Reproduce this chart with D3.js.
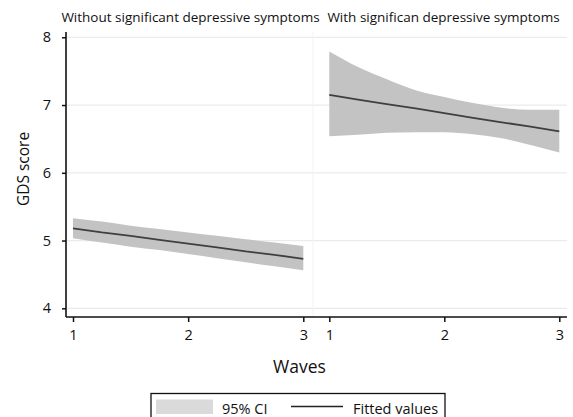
<!DOCTYPE html>
<html><head><meta charset="utf-8">
<script src="https://cdn.jsdelivr.net/npm/d3@7"></script>
<style>body{margin:0;background:#fff}svg{display:block}text{font-family:"Open Sans",sans-serif;fill:#111}</style>
</head><body>
<script>
const panelTitles = ["Without significant depressive symptoms", "With significan depressive symptoms"];
const waves = [1, 1.25, 1.5, 1.75, 2, 2.25, 2.5, 2.75, 3];
const noDepFit   = [5.18, 5.12, 5.07, 5.01, 4.955, 4.90, 4.84, 4.79, 4.73];
const noDepUpper = [5.33, 5.28, 5.22, 5.17, 5.12, 5.07, 5.02, 4.97, 4.92];
const noDepLower = [5.035, 4.97, 4.91, 4.86, 4.80, 4.74, 4.68, 4.62, 4.56];
const depFit   = [7.15, 7.08, 7.015, 6.95, 6.88, 6.81, 6.745, 6.68, 6.61];
const depUpper = [7.79, 7.56, 7.38, 7.22, 7.12, 7.03, 6.96, 6.93, 6.93];
const depLower = [6.54, 6.56, 6.59, 6.60, 6.60, 6.57, 6.51, 6.41, 6.30];
const xTicks = [1, 2, 3];
const yTicks = [4, 5, 6, 7, 8];
const legendLabels = ["95% CI", "Fitted values"];

const W = 573, H = 417;
const FONT = "'Open Sans',sans-serif";
const svg = d3.select("body").append("svg").attr("width", W).attr("height", H);

const plotLeft = 66, plotRight = 567, plotTop = 32, plotBottom = 317, divider = 313;
const y = d3.scaleLinear().domain([4, 8]).range([308.3, 37.3]);

const panels = [
  {title: panelTitles[0], fit: noDepFit, up: noDepUpper, lo: noDepLower, x: d3.scaleLinear().domain([1,3]).range([73, 303.3]), cx: 190.5},
  {title: panelTitles[1], fit: depFit, up: depUpper, lo: depLower, x: d3.scaleLinear().domain([1,3]).range([329.3, 559.3]), cx: 443.5}
];

svg.append("g").selectAll("line").data(yTicks).join("line")
  .attr("x1", plotLeft).attr("x2", plotRight)
  .attr("y1", d => y(d)).attr("y2", d => y(d))
  .attr("stroke", "#ebebeb").attr("stroke-width", 1.2);
svg.append("line").attr("x1", divider).attr("x2", divider).attr("y1", plotTop).attr("y2", plotBottom)
  .attr("stroke", "#f2f2f2").attr("stroke-width", 1);

panels.forEach(p => {
  const data = waves.map((w, i) => ({w, f: p.fit[i], u: p.up[i], l: p.lo[i]}));
  svg.append("path").datum(data)
    .attr("d", d3.area().curve(d3.curveMonotoneX).x(d => p.x(d.w)).y0(d => y(d.l)).y1(d => y(d.u)))
    .attr("fill", "#c3c3c3");
  svg.append("path").datum(data)
    .attr("d", d3.line().x(d => p.x(d.w)).y(d => y(d.f)))
    .attr("fill", "none").attr("stroke", "#3f3f3f").attr("stroke-width", 1.8);
  svg.append("text").attr("x", p.cx).attr("y", 22).attr("text-anchor", "middle")
    .style("font-size", "13.5px").text(p.title);
  const ax = svg.append("g").attr("transform", `translate(0,${plotBottom})`)
    .call(d3.axisBottom(p.x).tickValues(xTicks).tickFormat(d3.format("d")).tickSize(5).tickPadding(8));
  ax.attr("font-family", null).attr("font-size", null);
  ax.select(".domain").remove();
  ax.selectAll("line").attr("stroke", "#111").attr("stroke-width", 1.5);
  ax.selectAll("text").style("font-size", "14.5px").style("font-family", FONT).attr("fill", "#111");
});

svg.append("line").attr("x1", plotLeft).attr("x2", plotRight).attr("y1", plotBottom).attr("y2", plotBottom)
  .attr("stroke", "#111").attr("stroke-width", 1.6);

const yAx = svg.append("g").attr("transform", `translate(${plotLeft},0)`)
  .call(d3.axisLeft(y).tickValues(yTicks).tickFormat(d3.format("d")).tickSize(4).tickPadding(11));
yAx.attr("font-family", null).attr("font-size", null);
yAx.select(".domain").remove();
yAx.selectAll("line").attr("stroke", "#111").attr("stroke-width", 1.5);
yAx.selectAll("text").style("font-size", "14.5px").style("font-family", FONT).attr("fill", "#111");
svg.append("line").attr("x1", plotLeft).attr("x2", plotLeft).attr("y1", plotTop).attr("y2", plotBottom)
  .attr("stroke", "#111").attr("stroke-width", 1.6);

svg.append("text").attr("transform", "translate(28.5,169) rotate(-90)").attr("text-anchor", "middle")
  .style("font-size", "15.5px").text("GDS score");
svg.append("text").attr("x", 299.5).attr("y", 373).attr("text-anchor", "middle")
  .style("font-size", "17.5px").text("Waves");

svg.append("rect").attr("x", 151).attr("y", 393.5).attr("width", 294).attr("height", 30)
  .attr("fill", "#fff").attr("stroke", "#111").attr("stroke-width", 1.3);
svg.append("rect").attr("x", 156).attr("y", 399.5).attr("width", 57).attr("height", 14.5).attr("fill", "#dadada");
svg.append("text").attr("x", 222).attr("y", 413.5).style("font-size", "14.5px").text(legendLabels[0]);
svg.append("line").attr("x1", 291).attr("x2", 343).attr("y1", 406.5).attr("y2", 406.5)
  .attr("stroke", "#222").attr("stroke-width", 1.5);
svg.append("text").attr("x", 353).attr("y", 413.5).style("font-size", "14.5px").text(legendLabels[1]);
</script>
</body></html>
